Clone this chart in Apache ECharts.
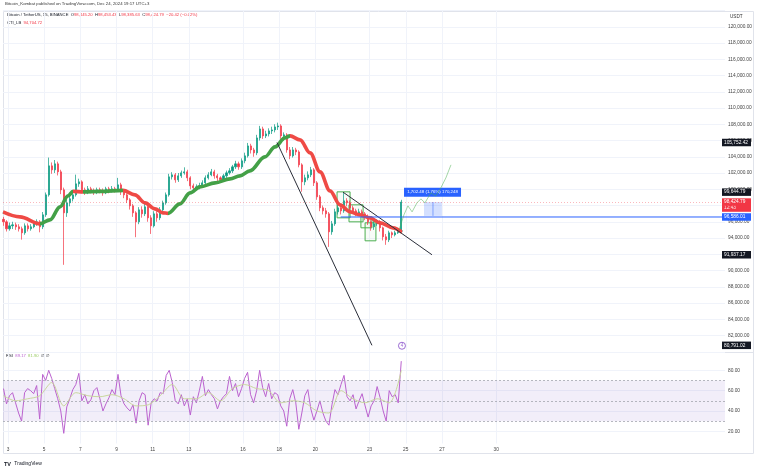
<!DOCTYPE html>
<html><head><meta charset="utf-8">
<script src="https://cdn.jsdelivr.net/npm/echarts@6/dist/echarts.min.js"></script>
<style>html,body{margin:0;padding:0;background:#fff}#c{width:758px;height:468px}</style>
</head><body><div id="c"></div>
<script>
// ---------- DATA ----------
// 4-hour sampled BTC/USDT (read off the 15m chart), day-of-December on x
const startDay = 2.751;
const stepDay = 1 / 6;
const firstOpen = 96300;
const closes = [95990,95129,95498,95621,95375,95129,94637,95498,95129,95375,
95744,95990,95375,96851,99311,102878,102386,103124,102140,99926,
97097,98327,98819,99311,100664,100910,99926,99680,100049,99803,
99680,99926,99803,99557,100049,99803,100049,99926,100541,99680,
99311,98696,97958,97097,95990,97466,96974,97835,96482,95498,
96974,96482,97466,98327,99311,101525,101771,101156,101648,102017,
102140,101402,100418,100172,100295,100418,100787,101402,101771,102140,
101648,101402,101156,101648,102017,102263,102755,103124,102755,103493,
104108,105338,104846,104477,106322,107429,106568,106814,107183,107306,
107675,107798,106568,106700,104846,104108,104846,104600,103001,100910,
101402,101771,102386,100787,99065,97712,97343,96974,94760,95744,
97220,97712,97343,98573,98327,97712,97343,97097,97220,96974,
96605,95990,95375,95744,95990,95252,94145,93776,94637,94391,
94637,94883,98425];
const highs = [96600,96200,95900,96000,95900,95700,95400,95800,95800,95700,
96100,96300,96200,97200,99600,103900,103300,103600,103400,102400,
100200,98700,99200,99700,101800,101300,101100,100200,100400,100300,
100100,100200,100200,100100,100300,100300,100400,100300,101400,100800,
99900,99500,98900,98200,97300,97800,97900,98300,98000,96800,
97300,97300,97800,98600,99600,101900,102100,102000,102000,102300,
102700,102400,101600,100700,100600,100800,101100,101700,102100,102500,
102400,101900,101600,101900,102300,102600,103000,103500,103400,103800,
104500,105700,105600,105100,106700,107800,107700,107200,107500,107700,
108000,108200,108000,107000,106900,105200,105200,105100,104800,103200,
101800,102200,102750,102600,101000,99300,98000,97700,97200,96100,
97600,98100,98000,99550,98900,98600,98000,97600,97600,97500,
97200,96900,96200,96100,96300,96200,95400,94500,94900,94800,
94900,95200,98700];
const lows = [95500,94800,94900,95100,95000,94800,93800,94400,94800,94900,
95200,95500,94700,95100,96600,99100,101900,102000,101700,99400,
90700,96600,97900,98500,99100,100300,99500,99300,99400,99500,
99300,99400,99500,99200,99400,99500,99600,99600,99800,99300,
98900,98300,97500,96600,94100,95700,96500,96700,96000,94500,
95300,96000,96200,97200,98100,99100,101200,100800,100900,101400,
101800,101000,100000,99800,99900,100000,100200,100600,101200,101600,
101300,101000,100800,100900,101400,101800,102000,102500,102400,102500,
103200,103900,104400,104000,104200,106000,106200,106300,106500,106800,
107000,107300,106200,106000,104500,103700,103900,104200,102700,99700,
100500,101100,101500,100400,98700,97300,96900,96500,92900,94400,
95500,96900,96900,97100,97900,97400,97000,96700,96800,96600,
96200,95600,94900,95000,95500,94800,93700,93160,93500,94000,
94200,94500,94700];
const rsiVals = [62,47,55,58,48,38,30,58,62,60,
57,65,32,76,70,80,72,62,52,40,
18,44,52,61,66,77,50,56,47,51,
60,63,52,40,47,53,61,56,76,55,
47,43,40,46,28,50,58,56,26,48,
52,50,58,57,75,80,68,50,47,56,
45,52,36,54,48,60,74,55,61,56,
52,42,50,54,57,74,60,67,54,62,
72,78,56,48,60,80,63,54,67,52,
58,56,45,40,25,52,61,48,22,38,
55,61,42,31,40,50,38,30,26,46,
61,56,66,75,54,50,56,42,50,57,
45,34,45,50,64,53,40,30,60,54,
56,48,89];
const rsiMaEvery = 4;
const rsiMaVals = [55,50,52,55,68,45,58,55,54,56,52,45,46,55,66,52,52,58,50,62,66,62,60,48,50,48,40,38,60,52,48,52,48,80];
// CTI_LB curve
const ctiDays = [2.72,3.66,4.77,5.32,5.88,6.32,6.60,7.15,8.09,9.36,10.02,10.58,11.13,11.57,11.85,12.51,13.07,13.62,14.45,15.28,15.83,16.38,17.21,17.77,18.32,18.60,19.15,19.71,20.26,20.81,21.36,21.92,22.47,23.02,23.58,24.29,24.80];
const ctiVals = [97220,96605,95744,96236,97835,99188,99740,99680,99740,99865,99311,98327,97589,97097,97036,98204,99557,100295,100787,101279,101648,102263,103985,105215,106322,106568,106076,104477,102140,99803,98081,97220,96851,96482,95867,95252,94705];
// drawings
const trend1 = [[17.88,105752.42],[23.13,80791.02]];
const trend2 = [[21.53,99644.79],[26.45,91937.17]];
const boxes = [[[21.20,99680],[21.92,96482]],[[21.86,98081],[22.64,95990]],[[22.52,96605],[23.13,95252]],[[22.75,95867],[23.35,93653]]];
const pathDays = [24.63,24.90,25.12,25.35,25.62,25.84,26.06,26.39,26.66,26.94,27.22,27.50];
const pathVals = [95006,96851,97958,97220,98327,98819,98327,99557,99188,100172,101402,103001];
const measure = {x0:26.01, x1:27.00, y0:96722.31, y1:98424.79, text:'1,702.48 (1.76%) 170,248', labelAt:[26.48, 99631]};
const blueLevel = {from:21.40, value:96586.01};
const lastPrice = 98424.79;
const eventMark = [24.79, 80738];
const dayLabels = [3,5,7,9,11,13,16,18,20,23,25,27,30];
const rsiTicks = [20,40,60,80];
const tags = [
  {v:105752.42, bg:'#131722'}, {v:99644.79, bg:'#131722'},
  {v:96586.01, bg:'#2962ff'}, {v:91937.17, bg:'#131722'}, {v:80791.02, bg:'#131722'}
];

// ---------- CHART ----------
const FONT = '"Liberation Sans", Arial, sans-serif';
const X0 = 3 - 5/18.08, X1 = X0 + 722/18.08;
const fmt = v => v.toLocaleString('en-US',{minimumFractionDigits:2, maximumFractionDigits:2});
const times = closes.map((_, i) => startDay + i*stepDay);
const candleData = closes.map((c,i)=>[times[i], i ? closes[i-1] : firstOpen, c, lows[i], highs[i]]);
const rsiData = rsiVals.map((v,i)=>[times[i], v]);
const rsiMaData = rsiMaVals.map((v,k)=>[times[k*rsiMaEvery], v]);
const ctiData = ctiDays.map((d,i)=>[d, ctiVals[i]]);

const GREEN = '#43a047', RED = '#ef4a45';
const pieces = [];
for (let j=0;j<ctiDays.length-1;j++){
  const col = ctiVals[j+1] > ctiVals[j] ? GREEN : RED;
  const last = pieces[pieces.length-1];
  if (last && last.color === col) last.lt = ctiDays[j+1];
  else pieces.push({gte: ctiDays[j], lt: ctiDays[j+1], color: col});
}
pieces[pieces.length-1].lte = pieces[pieces.length-1].lt; delete pieces[pieces.length-1].lt;

const HIDDEN = {color:'rgba(0,0,0,0)', width:0};
const tagLabel = (text, bg, color) => ({show:true, position:'end', formatter:text, backgroundColor:bg, color:color||'#fff',
  padding:[1.5,2,1,2], width:25, fontSize:4.8, fontFamily:FONT, distance:-3});
const tagLines = tags.map(t => ({yAxis:t.v, lineStyle:HIDDEN, label:tagLabel(fmt(t.v), t.bg)}));
tagLines.push({yAxis:lastPrice - 6/8.125*1000, lineStyle:HIDDEN, label:tagLabel('12:43', '#f23645', 'rgba(255,255,255,0.85)')});
tagLines.push({yAxis:lastPrice, lineStyle:{color:'rgba(242,54,69,0.35)', type:[1,2], width:1}, label:tagLabel(fmt(lastPrice), '#f23645')});

const gridLineColor = '#f0f3fa';
const option = {
  animation:false,
  backgroundColor:'#fff',
  grid:[{left:3, top:10.5, width:722, height:341.25}, {left:3, top:352, width:722, height:91.5}],
  xAxis:[
    {gridIndex:0, type:'value', min:X0, max:X1, axisLine:{show:false}, axisTick:{show:false, customValues:dayLabels},
     axisLabel:{show:false}, splitLine:{show:true, lineStyle:{color:gridLineColor}}},
    {gridIndex:1, type:'value', min:X0, max:X1, axisLine:{show:false}, axisTick:{show:false, customValues:dayLabels},
     axisLabel:{show:true, customValues:dayLabels, fontSize:4.8, color:'#444', fontFamily:FONT, margin:4},
     splitLine:{show:true, lineStyle:{color:gridLineColor}}}
  ],
  yAxis:[
    {gridIndex:0, type:'value', position:'right', min:80000, max:122000, interval:2000,
     axisLine:{show:false}, axisTick:{show:false}, splitLine:{show:true, lineStyle:{color:gridLineColor}},
     axisLabel:{margin:3, fontSize:4.8, color:'#444', fontFamily:FONT, formatter: v => (v<=80000||v>=121000)?'':fmt(v)}},
    {gridIndex:1, type:'value', position:'right', min:8, max:98,
     axisLine:{show:false}, axisTick:{show:false, customValues:rsiTicks}, splitLine:{show:true, lineStyle:{color:gridLineColor}},
     axisLabel:{customValues:rsiTicks, margin:3, fontSize:4.8, color:'#444', fontFamily:FONT, formatter: v => v.toFixed(2)}}
  ],
  visualMap:[{type:'piecewise', show:false, dimension:0, seriesIndex:1, pieces:pieces, outOfRange:{color:'#999'}}],
  series:[
    {type:'candlestick', xAxisIndex:0, yAxisIndex:0, data:candleData, barWidth:1.6,
     dimensions:['t','open','close','lowest','highest'], encode:{x:'t', y:['open','close','lowest','highest']},
     itemStyle:{color:'#089981', color0:'#f23645', borderColor:'#089981', borderColor0:'#f23645', borderWidth:0.7},
     markLine:{silent:true, symbol:'none', data:tagLines},
     markPoint:{silent:true, data:[{coord:eventMark, symbol:'circle', symbolSize:7,
       itemStyle:{color:'#fff', borderColor:'#9b6bd3', borderWidth:1},
       label:{show:true, formatter:'4', color:'#9b6bd3', fontSize:4.5, fontFamily:FONT}}]}},
    {type:'line', xAxisIndex:0, yAxisIndex:0, data:ctiData, showSymbol:false, smooth:0.35, smoothMonotone:'x',
     lineStyle:{width:3.6}, z:3},
    {type:'line', xAxisIndex:0, yAxisIndex:0, data:trend1, showSymbol:false, lineStyle:{color:'#2a2e39', width:1}, z:4},
    {type:'line', xAxisIndex:0, yAxisIndex:0, data:trend2, showSymbol:false, lineStyle:{color:'#2a2e39', width:1}, z:4,
     markArea:{silent:true, data: boxes.map(b=>[{coord:b[0], itemStyle:{color:'rgba(76,175,80,0.04)', borderColor:'#4caf50', borderWidth:1}},{coord:b[1]}])
       .concat([[{coord:[measure.x0, measure.y0], itemStyle:{color:'rgba(41,98,255,0.2)', borderWidth:0}},{coord:[measure.x1, measure.y1]}]])},
     markPoint:{silent:true, data:[{coord:measure.labelAt, symbol:'rect', symbolSize:[57,9], itemStyle:{color:'#2962ff'},
       label:{show:true, formatter:measure.text, color:'#fff', fontSize:4.4, fontFamily:FONT}}]}},
    {type:'line', xAxisIndex:0, yAxisIndex:0, data:[[blueLevel.from, blueLevel.value],[X1, blueLevel.value]], showSymbol:false,
     lineStyle:{color:'#2962ff', width:1}, z:4},
    {type:'lines', coordinateSystem:'cartesian2d', xAxisIndex:0, yAxisIndex:0, polyline:true, symbol:['none','arrow'], symbolSize:5, z:6,
     data:[
       {coords: pathDays.map((d,i)=>[d, pathVals[i]]), lineStyle:{color:'#4caf50', width:1}},
       {coords: [[(measure.x0+measure.x1)/2, measure.y0],[(measure.x0+measure.x1)/2, measure.y1]], lineStyle:{color:'#2962ff', width:1}}
     ]},
    {type:'line', xAxisIndex:1, yAxisIndex:1, data:rsiData, showSymbol:false, lineStyle:{color:'#bb62cf', width:1}, z:3,
     markArea:{silent:true, data:[[{yAxis:30, itemStyle:{color:'rgba(126,87,194,0.1)'}},{yAxis:70}]]},
     markLine:{silent:true, symbol:'none', label:{show:false}, lineStyle:{color:'#a3a6af', type:[2,2], width:0.8},
       data:[{yAxis:70},{yAxis:50},{yAxis:30}]}},
    {type:'line', xAxisIndex:1, yAxisIndex:1, data:rsiMaData, showSymbol:false, smooth:0.3, lineStyle:{color:'#cad79e', width:1}, z:4}
  ],
  graphic:[
    {type:'rect', shape:{x:3.5, y:11.5, width:750, height:442}, style:{fill:'none', stroke:'#e0e3eb', lineWidth:1}, silent:true, z:0},
    {type:'line', shape:{x1:3.5, y1:352.5, x2:753.5, y2:352.5}, style:{stroke:'#e0e3eb', lineWidth:1}, silent:true},
    {type:'text', left:5, top:2, style:{text:'Bitcoin_Kombat published on TradingView.com, Dec 24, 2024 19:17 UTC+3', fontSize:4.3, fill:'#333', fontFamily:FONT}},
    {type:'text', left:7, top:13, style:{fontFamily:FONT, fontSize:4.2, fill:'#131722',
      text:'{n|Bitcoin / TetherUS, 15, BINANCE}  {k|O}{v|98,445.20}  {k|H}{v|98,453.43}  {k|L}{v|98,385.63}  {k|C}{v|98,424.79}  {v|−20.42 (−0.02%)}',
      rich:{n:{fill:'#131722', fontSize:4.2}, k:{fill:'#131722', fontSize:4.2}, v:{fill:'#f23645', fontSize:4.2}}}},
    {type:'text', left:7, top:21, style:{fontFamily:FONT, fontSize:4.2,
      text:'{n|CTI_LB}  {v|94,704.72}', rich:{n:{fill:'#131722', fontSize:4.2}, v:{fill:'#f23645', fontSize:4.2}}}},
    {type:'text', left:6, top:354, style:{fontFamily:FONT, fontSize:4.2,
      text:'{n|RSI}  {p|89.17}  {g|81.90}  {n|∅}  {n|∅}', rich:{n:{fill:'#131722', fontSize:4.2}, p:{fill:'#bb62cf', fontSize:4.2}, g:{fill:'#9ccc65', fontSize:4.2}}}},
    {type:'text', left:730, top:14, style:{text:'USDT', fontSize:4.6, fill:'#333', fontFamily:FONT}},
    {type:'text', left:4, top:458, style:{fontFamily:FONT, text:'{l|TV} {t|TradingView}',
      rich:{l:{fill:'#131722', fontSize:5.5, fontWeight:'bold'}, t:{fill:'#131722', fontSize:5}}}}
  ]
};
const chart = echarts.init(document.getElementById('c'));
chart.setOption(option);
</script></body></html>
